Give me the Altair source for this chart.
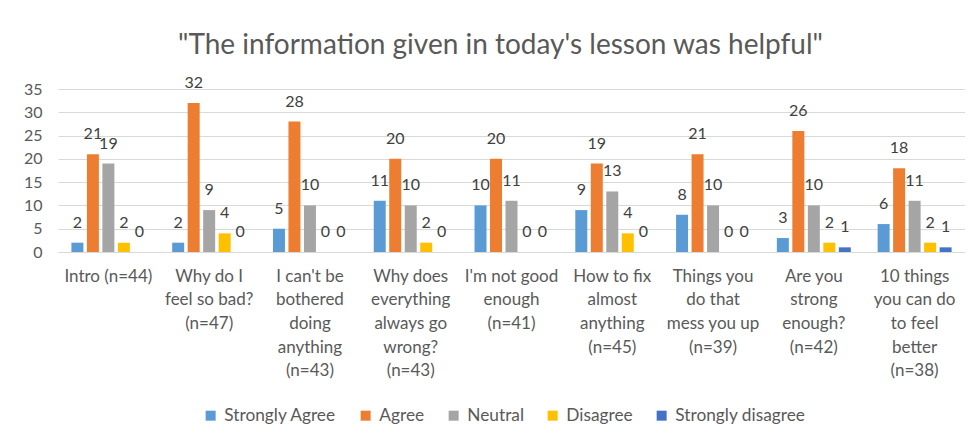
import altair as alt
import pandas as pd

categories = [
    "Intro (n=44)",
    "Why do I|feel so bad?|(n=47)",
    "I can't be|bothered|doing|anything|(n=43)",
    "Why does|everything|always go|wrong?|(n=43)",
    "I'm not good|enough|(n=41)",
    "How to fix|almost|anything|(n=45)",
    "Things you|do that|mess you up|(n=39)",
    "Are you|strong|enough?|(n=42)",
    "10 things|you can do|to feel|better|(n=38)",
]
series = ["Strongly Agree", "Agree", "Neutral", "Disagree", "Strongly disagree"]
colors = ["#5B9BD5", "#ED7D31", "#A5A5A5", "#FFC000", "#4472C4"]

strongly_agree = [2, 2, 5, 11, 10, 9, 8, 3, 6]
agree = [21, 32, 28, 20, 20, 19, 21, 26, 18]
neutral = [19, 9, 10, 10, 11, 13, 10, 10, 11]
disagree = [2, 4, 0, 2, 0, 4, 0, 2, 2]
strongly_disagree = [0, 0, 0, 0, 0, 0, 0, 1, 1]

values = [strongly_agree, agree, neutral, disagree, strongly_disagree]
rows = []
for s, vals in zip(series, values):
    for c, v in zip(categories, vals):
        rows.append({"category": c, "series": s, "value": v})
df = pd.DataFrame(rows)

FONT = "Lato"
FS = 16

x = alt.X(
    "category:N",
    sort=categories,
    scale=alt.Scale(paddingInner=0.266, paddingOuter=0.133),
    axis=alt.Axis(
        title=None,
        labelAngle=0,
        labelExpr="split(datum.value, '|')",
        labelFontSize=17,
        labelColor="#595959",
        labelLineHeight=23.7,
        labelPadding=16,
        ticks=False,
        domain=True,
        domainColor="#D9D9D9",
        labelFont=FONT,
        labelBaseline="top",
    ),
)
xo = alt.XOffset("series:N", sort=series, scale=alt.Scale(paddingInner=0.226, paddingOuter=0))
y = alt.Y(
    "value:Q",
    scale=alt.Scale(domain=[0, 35]),
    axis=alt.Axis(
        title=None,
        values=[0, 5, 10, 15, 20, 25, 30, 35],
        labelFontSize=FS,
        labelColor="#595959",
        labelFont=FONT,
        ticks=False,
        domain=False,
        gridColor="#D9D9D9",
        labelPadding=16,
    ),
)
color = alt.Color(
    "series:N",
    sort=series,
    scale=alt.Scale(domain=series, range=colors),
    legend=alt.Legend(
        title=None,
        orient="none",
        direction="horizontal",
        legendX=144,
        legendY=318,
        symbolType="square",
        symbolSize=100,
        symbolStrokeWidth=0,
        labelFontSize=17.3,
        labelColor="#595959",
        labelFont=FONT,
        columnPadding=20,
        labelOffset=5,
    ),
)

base = alt.Chart(df)
bars = base.mark_bar().encode(x=x, xOffset=xo, y=y, color=color)
labels = base.mark_text(
    baseline="bottom", dy=-12, fontSize=FS, color="#404040", font=FONT
).encode(x=x, xOffset=xo, y=y, text="value:Q")

chart = (
    alt.layer(bars, labels)
    .properties(
        width=907,
        height=163,
        title=alt.TitleParams(
            '"The information given in today\'s lesson was helpful"',
            fontSize=28,
            font=FONT,
            fontWeight="normal",
            color="#595959",
            anchor="middle",
            offset=15,
            dx=-11,
        ),
        autosize=alt.AutoSizeParams(type="none"),
        padding={"left": 50, "top": 81, "right": 0, "bottom": 180},
        background="white",
    )
    .configure_view(stroke=None)
)

chart.save("out.html", embed_options={"renderer": "svg", "actions": False})
